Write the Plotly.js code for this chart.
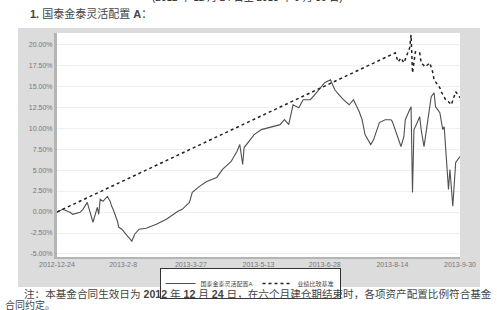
<!DOCTYPE html>
<html><head><meta charset="utf-8">
<script src="https://cdn.plot.ly/plotly-3.0.1.min.js"></script>
<style>html,body{margin:0;padding:0;background:#fff;}
#wrap{position:relative;width:497px;height:310px;}
#panel{position:absolute;left:18px;top:28px;width:462px;height:259px;background:#dcdcdc;}
#c{position:absolute;left:0;top:0;width:497px;height:310px;}</style>
</head><body><div id="wrap"><div id="panel"></div><div id="c"></div></div>
<script>
// Fund cumulative NAV growth (%)
const fundDates = ["2012-12-24","2012-12-28","2013-01-02","2013-01-04","2013-01-09","2013-01-11","2013-01-14","2013-01-16","2013-01-18","2013-01-21","2013-01-22","2013-01-23","2013-01-25","2013-01-28","2013-01-30","2013-01-31","2013-02-01","2013-02-04","2013-02-05","2013-02-07","2013-02-08","2013-02-11","2013-02-14","2013-02-16","2013-02-19","2013-02-24","2013-03-03","2013-03-10","2013-03-18","2013-03-21","2013-03-26","2013-03-28","2013-04-02","2013-04-07","2013-04-14","2013-04-18","2013-04-24","2013-04-28","2013-04-30","2013-05-02","2013-05-03","2013-05-07","2013-05-10","2013-05-15","2013-05-21","2013-05-28","2013-05-31","2013-06-03","2013-06-06","2013-06-10","2013-06-13","2013-06-18","2013-06-21","2013-06-25","2013-06-28","2013-07-02","2013-07-05","2013-07-08","2013-07-11","2013-07-15","2013-07-18","2013-07-22","2013-07-24","2013-07-26","2013-07-30","2013-08-01","2013-08-05","2013-08-09","2013-08-13","2013-08-14","2013-08-16","2013-08-20","2013-08-22","2013-08-23","2013-08-26","2013-08-27","2013-08-28","2013-08-29","2013-08-30","2013-09-02","2013-09-03","2013-09-05","2013-09-06","2013-09-09","2013-09-10","2013-09-12","2013-09-13","2013-09-16","2013-09-17","2013-09-18","2013-09-19","2013-09-20","2013-09-21","2013-09-22","2013-09-23","2013-09-24","2013-09-25","2013-09-27","2013-09-30"];
const fundValues = [0.00,0.32,-0.04,-0.27,-0.04,0.32,1.15,0.08,-1.22,0.56,-0.27,1.51,1.27,1.86,1.27,0.68,0.32,-1.10,-1.82,-2.05,-2.29,-2.88,-3.47,-2.65,-2.05,-1.93,-1.46,-0.87,0.08,0.32,1.15,2.34,3.05,3.64,4.12,5.07,6.02,7.21,8.04,5.66,7.68,8.63,9.22,9.82,10.05,10.41,11.00,10.41,12.78,12.43,13.38,13.38,13.97,14.80,15.40,15.75,14.56,13.97,13.38,12.78,13.38,11.95,11.00,9.22,8.04,8.63,10.65,11.00,11.00,10.77,9.82,7.80,8.99,11.00,12.19,12.55,2.34,9.82,10.17,11.36,9.82,7.80,8.99,12.19,13.73,14.21,12.55,11.83,11.00,9.82,10.17,7.80,5.43,2.70,5.07,2.70,0.68,5.90,6.61];
// Benchmark (%)
const benchDates = ["2012-12-24","2013-08-16","2013-08-18","2013-08-20","2013-08-22","2013-08-24","2013-08-26","2013-08-27","2013-08-28","2013-08-30","2013-09-02","2013-09-03","2013-09-06","2013-09-09","2013-09-11","2013-09-12","2013-09-16","2013-09-17","2013-09-19","2013-09-20","2013-09-22","2013-09-24","2013-09-27","2013-09-30"];
const benchValues = [0.00,18.96,17.89,18.36,17.77,18.72,19.55,21.10,16.58,19.08,18.96,17.77,17.30,17.77,16.70,15.75,14.80,14.33,13.73,13.38,13.14,12.78,14.33,13.62];
const seriesNames = ["国泰金泰灵活配置A","业绩比较基准"];
const xTickDates = ["2012-12-24","2013-02-08","2013-03-27","2013-05-13","2013-06-28","2013-08-14","2013-09-30"];
const xTickLabels = ["2012-12-24","2013-2-8","2013-3-27","2013-5-13","2013-6-28","2013-8-14","2013-9-30"];
const yTicks = [-5,-2.5,0,2.5,5,7.5,10,12.5,15,17.5,20];
const yTickLabels = ["-5.00%","-2.50%","0.00%","2.50%","5.00%","7.50%","10.00%","12.50%","15.00%","17.50%","20.00%"];

const FONT = 'Liberation Sans, "Noto Sans CJK SC", sans-serif';
const W=497,H=310,L=57,R=37,T=33,B=53;
const pw=W-L-R, ph=H-T-B;
const px=x=>(x-L)/pw, py=y=>(H-B-y)/ph;

const traces = [
  {x:fundDates,y:fundValues,name:seriesNames[0],type:'scatter',mode:'lines',line:{color:'#505050',width:1.1}},
  {x:benchDates,y:benchValues,name:seriesNames[1],type:'scatter',mode:'lines',line:{color:'#222',width:1.5,dash:'dot'}}
];
const layout = {
  width:W,height:H,margin:{l:L,r:R,t:T,b:B,autoexpand:false},
  paper_bgcolor:'rgba(0,0,0,0)',plot_bgcolor:'#ffffff',
  font:{family:FONT,size:7,color:'#666'},
  showlegend:true,
  legend:{orientation:'h',x:px(250),xanchor:'center',y:py(268),yanchor:'top',bgcolor:'#fff',bordercolor:'#333',borderwidth:1,font:{size:6,color:'#444'},itemwidth:30,tracegroupgap:0},
  xaxis:{type:'date',range:['2012-12-24','2013-09-30'],tickvals:xTickDates,ticktext:xTickLabels,showgrid:false,zeroline:false,showline:true,linecolor:'#b5b5b5',linewidth:2,ticks:'',tickfont:{size:7,color:'#777'},automargin:false},
  yaxis:{range:[-5.36,21.33],tickvals:yTicks,ticktext:yTickLabels,showgrid:true,gridcolor:'#efefef',zeroline:false,showline:true,linecolor:'#b5b5b5',linewidth:3,ticks:'',tickfont:{size:7,color:'#777'},automargin:false},
  annotations:[
    {xref:'paper',yref:'paper',x:px(150),y:py(5),xanchor:'left',yanchor:'bottom',showarrow:false,text:'(2012 年 12 月 24 日至 2013 年 9 月 30 日)',font:{size:10,color:'#222'}},
    {xref:'paper',yref:'paper',x:px(28),y:py(13),xanchor:'left',yanchor:'middle',showarrow:false,text:'<b>1.</b> 国泰金泰灵活配置 <b>A</b>：',font:{size:11,color:'#444'}},
    {xref:'paper',yref:'paper',x:px(22),y:py(293.5),xanchor:'left',yanchor:'middle',showarrow:false,text:'注：本基金合同生效日为 <b>2012</b> 年 <b>12</b> 月 <b>24</b> 日，在六个月建仓期结束时，各项资产配置比例符合基金',font:{size:10.6,color:'#444'}},
    {xref:'paper',yref:'paper',x:px(3),y:py(305),xanchor:'left',yanchor:'middle',showarrow:false,text:'合同约定。',font:{size:10,color:'#444'}}
  ]
};
Plotly.newPlot('c',traces,layout,{staticPlot:true,displayModeBar:false});
</script></body></html>
